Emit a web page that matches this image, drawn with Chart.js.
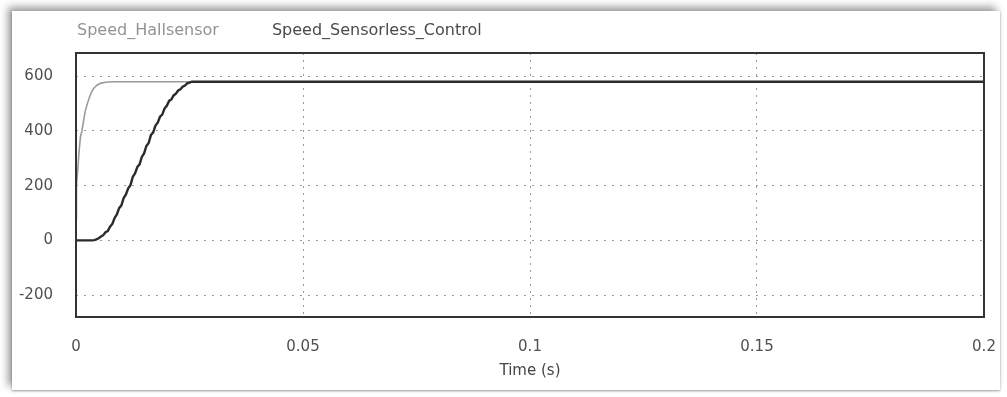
<!doctype html>
<html lang="en">

<head>
    <meta charset="utf-8">
    <title>Speed response</title>
    <script src="https://cdn.jsdelivr.net/npm/chart.js@4.4.0/dist/chart.umd.min.js"></script>
    <style>
        html, body { margin: 0; padding: 0; background: #fff; }
        #page { position: relative; width: 1007px; height: 397px; overflow: hidden; }
        #card {
            position: absolute; left: 12px; top: 11px; width: 988px; height: 379px;
            background: #fff; box-shadow: -4px -4px 8px rgba(0, 0, 0, 0.4), 0 1px 2px rgba(0, 0, 0, 0.35);
        }
        #wrap { position: absolute; left: 0; top: 0; width: 1007px; height: 397px; }
    </style>
</head>

<body>
    <div id="page">
        <div id="card"></div>
        <div id="wrap"><canvas id="myChart"></canvas></div>
    </div>

    <script type="text/javascript">
        // series names
        var seriesNames = ['Speed_Hallsensor', 'Speed_Sensorless_Control'];

        // Speed_Hallsensor: time (s) and speed
        var hallTime = [0, 0.0001, 0.0004, 0.0007, 0.001, 0.0013, 0.0017, 0.002, 0.0025, 0.003, 0.0035, 0.004,
            0.0047, 0.0055, 0.0065, 0.008, 0.2];
        var hallSpeed = [80, 200, 260, 330, 380, 400, 440, 470, 500, 525, 545, 558,
            568, 575, 578, 580, 580];

        // Speed_Sensorless_Control: time (s) and speed (stepped ramp)
        var sensorlessTime = [0, 0.0035, 0.004, 0.0045, 0.005, 0.0055, 0.006, 0.0065, 0.007, 0.0075, 0.008,
            0.0085, 0.009, 0.0095, 0.01, 0.0105, 0.011, 0.0115, 0.012, 0.0125, 0.013, 0.0135, 0.014,
            0.0145, 0.015, 0.0155, 0.016, 0.0165, 0.017, 0.0175, 0.018, 0.0185, 0.019, 0.0195, 0.02,
            0.0205, 0.021, 0.0215, 0.022, 0.0225, 0.023, 0.0235, 0.024, 0.0245, 0.025, 0.0255, 0.2];
        var sensorlessSpeed = [0, 0, 1, 4, 8, 14, 19, 30, 34, 50, 60,
            82, 95, 118, 128, 155, 168, 190, 202, 232, 245, 268, 278,
            305, 318, 345, 356, 385, 395, 420, 430, 452, 460, 482, 492,
            510, 515, 530, 536, 548, 552, 562, 566, 574, 577, 580, 580];

        // axis ticks
        var xTicks = [0, 0.05, 0.1, 0.15, 0.2];
        var xTickLabels = ['0', '0.05', '0.1', '0.15', '0.2'];
        var yTicks = [-200, 0, 200, 400, 600];
        var xTitle = 'Time (s)';

        var COLORS = {
            hall: '#9a9a9a',
            sensorless: '#2b2b2b',
            legendHall: '#939393',
            legendSensorless: '#4a4a4a',
            tick: '#505050',
            grid: '#999999',
            frame: '#333333'
        };

        function toPoints(xs, ys) {
            return xs.map((x, i) => ({ x: x, y: ys[i] }));
        }

        // solid frame round the plot area
        const framePlugin = {
            id: 'frame',
            afterDatasetsDraw(chart) {
                const a = chart.chartArea;
                const ctx = chart.ctx;
                ctx.save();
                ctx.strokeStyle = COLORS.frame;
                ctx.lineWidth = 2;
                ctx.strokeRect(a.left, a.top, a.right - a.left, a.bottom - a.top);
                ctx.restore();
            }
        };

        // legend sits a little further in than the y axis labels
        const legendShift = {
            id: 'legendShift',
            afterLayout(chart) {
                chart.legend.left += 12;
                chart.legend.right += 12;
            }
        };

        Chart.defaults.font.family = '"DejaVu Sans", sans-serif';
        Chart.defaults.font.size = 15;

        var ctx = document.getElementById('myChart');
        var chart = new Chart(ctx, {
            type: 'line',
            data: {
                datasets: [{
                    label: seriesNames[1],
                    data: toPoints(sensorlessTime, sensorlessSpeed),
                    borderColor: COLORS.sensorless,
                    borderWidth: 2.4,
                    pointRadius: 0,
                    tension: 0
                }, {
                    label: seriesNames[0],
                    data: toPoints(hallTime, hallSpeed),
                    borderColor: COLORS.hall,
                    borderWidth: 1.6,
                    pointRadius: 0,
                    tension: 0
                }]
            },
            options: {
                responsive: true,
                maintainAspectRatio: false,
                animation: false,
                layout: {
                    padding: { left: 12, right: 23, top: 11, bottom: 17 }
                },
                plugins: {
                    tooltip: { enabled: false },
                    legend: {
                        position: 'top',
                        align: 'start',
                        labels: {
                            boxWidth: 37,
                            boxHeight: 24,
                            padding: 8,
                            font: { size: 16 },
                            generateLabels: () => [
                                { text: seriesNames[0], fontColor: COLORS.legendHall, fillStyle: 'rgba(0,0,0,0)', strokeStyle: 'rgba(0,0,0,0)', lineWidth: 0 },
                                { text: seriesNames[1], fontColor: COLORS.legendSensorless, fillStyle: 'rgba(0,0,0,0)', strokeStyle: 'rgba(0,0,0,0)', lineWidth: 0 }
                            ]
                        }
                    }
                },
                scales: {
                    x: {
                        type: 'linear',
                        min: 0,
                        max: 0.2,
                        afterBuildTicks: (axis) => { axis.ticks = xTicks.map(v => ({ value: v })); },
                        afterFit: (axis) => {
                            axis.height = 63;
                            axis.paddingLeft = 0;
                            axis.paddingRight = 0;
                        },
                        ticks: {
                            color: COLORS.tick,
                            padding: 21,
                            maxRotation: 0,
                            callback: (value) => xTickLabels[xTicks.indexOf(value)]
                        },
                        grid: { color: COLORS.grid, drawTicks: false, lineWidth: 1 },
                        border: { display: false, dash: [2, 5] },
                        title: {
                            display: true,
                            text: xTitle,
                            color: '#454545',
                            padding: { top: 8, bottom: 0 }
                        }
                    },
                    y: {
                        min: -280,
                        max: 685,
                        afterBuildTicks: (axis) => { axis.ticks = yTicks.map(v => ({ value: v })); },
                        afterFit: (axis) => { axis.width = 64; },
                        ticks: { color: COLORS.tick, padding: 23 },
                        grid: { color: COLORS.grid, drawTicks: false, lineWidth: 1 },
                        border: { display: false, dash: [2, 6] }
                    }
                }
            },
            plugins: [framePlugin, legendShift]
        });
    </script>
</body>

</html>
